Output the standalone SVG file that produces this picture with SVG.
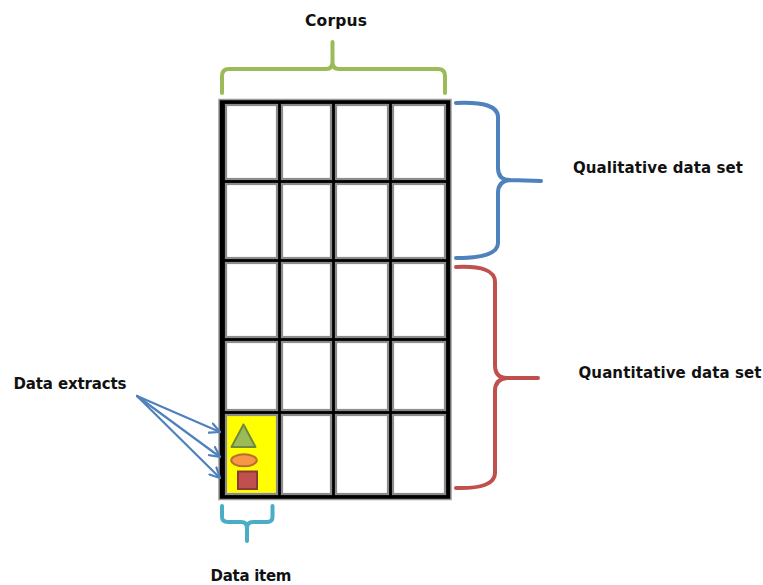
<svg xmlns="http://www.w3.org/2000/svg" width="763" height="585" viewBox="0 0 763 585">
<defs>
<style>
.lbl{font-family:"DejaVu Sans","Liberation Sans",sans-serif;font-weight:bold;fill:#111;}
.cell{fill:#fff;stroke:#8c8c8c;stroke-width:2.2;}
.brace{fill:none;stroke-width:4;stroke-linecap:round;stroke-linejoin:round;}
.arr{fill:none;stroke:#4f81bd;stroke-width:2.2;stroke-linecap:round;}
</style>
<marker id="ah" viewBox="0 0 12 12" refX="11" refY="6" markerWidth="12" markerHeight="12" markerUnits="userSpaceOnUse" orient="auto">
<path d="M1,1 L11,6 L1,11" fill="none" stroke="#4f81bd" stroke-width="2.2" stroke-linecap="round" stroke-linejoin="round"/>
</marker>
</defs>
<rect width="763" height="585" fill="#fff"/>

<g id="grid">
<rect x="219" y="99.5" width="232" height="400" fill="#000" stroke="#9a9a9a" stroke-width="1.5"/>
<g id="cell-r1c1"><rect class="cell" x="226" y="105" width="51" height="74"/></g>
<g id="cell-r1c2"><rect class="cell" x="282" y="105" width="49" height="74"/></g>
<g id="cell-r1c3"><rect class="cell" x="336" y="105" width="52" height="74"/></g>
<g id="cell-r1c4"><rect class="cell" x="393" y="105" width="52" height="74"/></g>
<g id="cell-r2c1"><rect class="cell" x="226" y="184" width="51" height="74"/></g>
<g id="cell-r2c2"><rect class="cell" x="282" y="184" width="49" height="74"/></g>
<g id="cell-r2c3"><rect class="cell" x="336" y="184" width="52" height="74"/></g>
<g id="cell-r2c4"><rect class="cell" x="393" y="184" width="52" height="74"/></g>
<g id="cell-r3c1"><rect class="cell" x="226" y="263" width="51" height="74"/></g>
<g id="cell-r3c2"><rect class="cell" x="282" y="263" width="49" height="74"/></g>
<g id="cell-r3c3"><rect class="cell" x="336" y="263" width="52" height="74"/></g>
<g id="cell-r3c4"><rect class="cell" x="393" y="263" width="52" height="74"/></g>
<g id="cell-r4c1"><rect class="cell" x="226" y="342" width="51" height="68"/></g>
<g id="cell-r4c2"><rect class="cell" x="282" y="342" width="49" height="68"/></g>
<g id="cell-r4c3"><rect class="cell" x="336" y="342" width="52" height="68"/></g>
<g id="cell-r4c4"><rect class="cell" x="393" y="342" width="52" height="68"/></g>
<g id="cell-r5c1"><rect class="cell" x="226" y="415" width="51" height="79" style="fill:#ffff00"/>
<polygon points="243.5,424.5 231.5,447 255.5,447" fill="#9bbb59" stroke="#71893f" stroke-width="2" stroke-linejoin="round"/>
<ellipse cx="244" cy="460.3" rx="12.8" ry="6" fill="#f79646" stroke="#b66d31" stroke-width="2"/>
<rect x="238" y="471.5" width="19" height="17.5" fill="#c0504d" stroke="#8c3836" stroke-width="2"/>
</g>
<g id="cell-r5c2"><rect class="cell" x="282" y="415" width="49" height="79"/></g>
<g id="cell-r5c3"><rect class="cell" x="336" y="415" width="52" height="79"/></g>
<g id="cell-r5c4"><rect class="cell" x="393" y="415" width="52" height="79"/></g>
</g>

<g id="connectors">
<path class="brace" stroke="#9bbb59" d="M222,93 L222,76 Q222,69 229,69 L326,69 Q332.5,69 332.5,62 L332.5,42 M332.5,62 Q332.5,69 339,69 L438,69 Q445,69 445,76 L445,93"/>
<path class="brace" stroke="#4f81bd" d="M456,103 Q498,101 498,117 L498,168 Q498,180 510,180 L541,181 M510,180 Q498,181 498,193 L498,243 Q498,258 456,258"/>
<path class="brace" stroke="#c0504d" d="M456,267 Q495,265 495,282 L495,365 Q495,378 507,378 L538,378 M507,378 Q495,379 495,391 L495,473 Q495,489 456,488"/>
<path class="brace" stroke="#4bacc6" d="M222,506 L222,517 Q222,522 228,522 L241,522 Q247,522 247,528 L247,541 M247,528 Q247,522 253,522 L267,522 Q272.5,522 272.5,517 L272.5,506"/>
<path class="arr" marker-end="url(#ah)" d="M137,396 L220,432"/>
<path class="arr" marker-end="url(#ah)" d="M137,396 L220,457"/>
<path class="arr" marker-end="url(#ah)" d="M137,396 L220,478"/>
</g>

<g id="labels">
<text class="lbl" x="336" y="26" font-size="15.5" text-anchor="middle" textLength="62">Corpus</text>
<text class="lbl" x="658" y="173" font-size="15" text-anchor="middle" textLength="170">Qualitative data set</text>
<text class="lbl" x="670" y="378" font-size="15" text-anchor="middle" textLength="183">Quantitative data set</text>
<text class="lbl" x="70" y="389" font-size="15" text-anchor="middle" textLength="113">Data extracts</text>
<text class="lbl" x="251" y="581" font-size="15" text-anchor="middle" textLength="81">Data item</text>
</g>
</svg>
